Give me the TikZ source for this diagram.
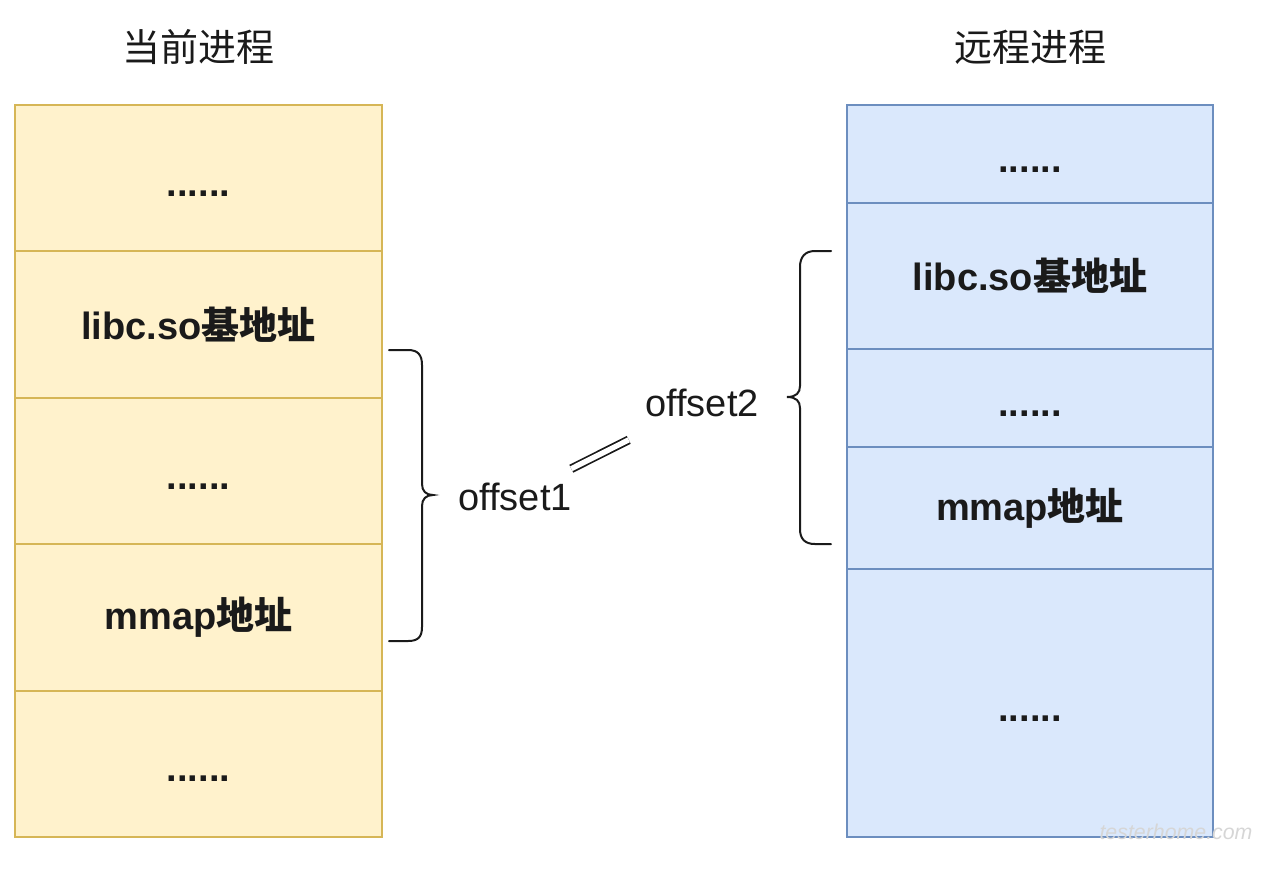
\documentclass[tikz,border=0pt]{standalone}
\usepackage{fontspec}
\setmainfont{Liberation Sans}
\newfontfamily\cjk{Noto Sans CJK SC}
\definecolor{yfill}{HTML}{FFF2CC}
\definecolor{ydraw}{HTML}{D6B656}
\definecolor{bfill}{HTML}{DAE8FC}
\definecolor{bdraw}{HTML}{6C8EBF}
\definecolor{ink}{HTML}{1A1A1A}
\begin{document}
\begin{tikzpicture}[x=0.75pt,y=-0.75pt,
  every node/.style={inner sep=0pt,outer sep=0pt,font=\fontsize{28.5}{34}\selectfont,text=ink},
  ycell/.style={draw=ydraw,fill=yfill,line width=1.5pt,minimum width=275.25pt,font=\fontsize{28.5}{34}\selectfont\bfseries},
  bcell/.style={draw=bdraw,fill=bfill,line width=1.5pt,minimum width=274.5pt,font=\fontsize{28.5}{34}\selectfont\bfseries},
  dots/.style={text height=27pt,text depth=0pt},
  brace/.style={draw=ink,line width=1.5pt,line cap=round},
  eqline/.style={draw=ink,line width=1.3pt,double=white,double distance=4pt}
]
\useasboundingbox (0,0) rectangle (1269,869);

% titles
\node (t1) at (198,47) {\cjk 当前进程};
\node (t2) at (1030,47) {\cjk 远程进程};

% left column
\node[ycell,dots,minimum height=109.8pt] (l1) at (198.5,178.2) {......};
\node[ycell,minimum height=109.8pt] (l2) at (198.5,324.6) {libc.so{\cjk 基地址}};
\node[ycell,dots,minimum height=109.8pt] (l3) at (198.5,471) {......};
\node[ycell,minimum height=109.8pt] (l4) at (198.5,617.4) {mmap{\cjk 地址}};
\node[ycell,dots,minimum height=109.8pt] (l5) at (198.5,763.8) {......};

% right column
\node[bcell,dots,minimum height=73.5pt] (r1) at (1030,154) {......};
\node[bcell,minimum height=109.5pt] (r2) at (1030,276) {libc.so{\cjk 基地址}};
\node[bcell,dots,minimum height=73.5pt] (r3) at (1030,398) {......};
\node[bcell,minimum height=91.5pt] (r4) at (1030,508) {mmap{\cjk 地址}};
\node[bcell,dots,minimum height=201pt] (r5) at (1030,703) {......};

% braces
\draw[brace] (389,350) -- (408,350) .. controls (418,350) and (422,355) .. (422,365)
  -- (422,484) .. controls (422,491) and (426,495) .. (433,495)
  .. controls (426,495) and (422,499) .. (422,506)
  -- (422,627) .. controls (422,637) and (418,641) .. (408,641) -- (389,641);
\draw[brace] (831,251) -- (815,251) .. controls (805,251) and (800,257) .. (800,267)
  -- (800,386) .. controls (800,393) and (796,397) .. (787,397)
  .. controls (796,397) and (800,401) .. (800,408)
  -- (800,529) .. controls (800,539) and (805,544) .. (815,544) -- (831,544);

% offset labels
\node (o1) at (515,497) {offset1};
\node (o2) at (702,403) {offset2};
\draw[eqline,shorten <=63pt*0.75,shorten >=82pt*0.75] (o1.center) -- (o2.center);

% watermark
\node[text=black!16,font=\fontsize{16}{18}\selectfont\itshape] (wm) at (1176,832) {testerhome.com};
\end{tikzpicture}
\end{document}
